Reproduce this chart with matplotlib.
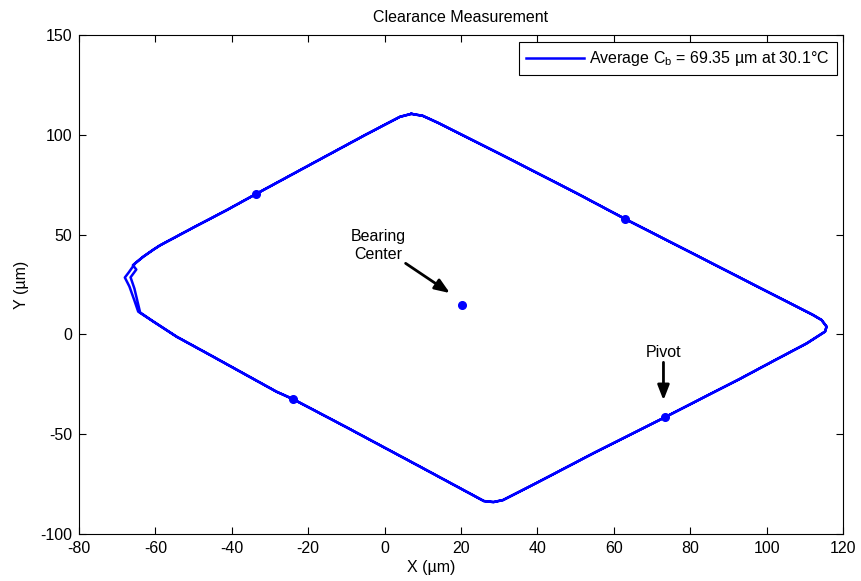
import matplotlib
matplotlib.use("Agg")
import matplotlib.pyplot as plt

plt.rcParams['font.family'] = ['Liberation Sans', 'DejaVu Sans']
plt.rcParams['mathtext.fontset'] = 'custom'
plt.rcParams['mathtext.rm'] = 'Liberation Sans'
plt.rcParams['mathtext.it'] = 'Liberation Sans'
plt.rcParams['axes.unicode_minus'] = False

# Orbit trace, lap 1 (outer on left)
lap1_x = [7, 10, 14, 30, 50, 63, 80, 100, 112, 114.4, 115.7, 115.3,
          110.5, 101.8, 93, 84.3, 73.4, 55, 40, 31, 28.5, 26, 10, -10, -24,
          -28.3, -37, -45.7, -54.4, -60.5, -64.5,
          -65.5, -66.8, -68, -67, -65.3, -63.2, -60.5, -58.8, -50.1, -41.4, -33.7, -20, -5, 4, 7]
lap1_y = [110.5, 109.5, 106, 90.6, 71.0, 57.8, 41.2, 21.6, 9.9, 7.2, 3.9, 1.4,
          -4.5, -13.3, -22.3, -30.8, -41.5, -59.2, -74.2, -83, -84, -83.5, -67, -46.5, -32.4,
          -28.7, -19.5, -10.3, -1.2, 6.4, 11.4,
          17, 24, 28.5, 31, 35.6, 38.9, 42.5, 44.6, 53.5, 62.2, 70.3, 84.5, 100, 109, 110.5]
# lap 2 (inner on left)
lap2_x = [7, 10, 14, 30, 50, 63, 80, 100, 112, 114.4, 115.7, 115.3,
          110.5, 101.8, 93, 84.3, 73.4, 55, 40, 31, 28.5, 26, 10, -10, -24,
          -28.3, -37, -45.7, -54.4, -60.5, -64.0,
          -64.5, -65.5, -66.5, -65, -65.9, -63.2, -60.5, -58.8, -50.1, -41.4, -33.7, -20, -5, 4, 7]
lap2_y = [110.5, 109.5, 106, 90.6, 71.0, 57.8, 41.2, 21.6, 9.9, 7.2, 3.9, 1.4,
          -4.5, -13.3, -22.3, -30.8, -41.5, -59.2, -74.2, -83, -84, -83.5, -67, -46.5, -32.4,
          -28.7, -19.5, -10.3, -1.2, 6.4, 11.0,
          15, 23, 28.6, 32.5, 34.7, 38.9, 42.5, 44.6, 53.5, 62.2, 70.3, 84.5, 100, 109, 110.5]

# Marked points (pads, pivot) and bearing center
mark_x = [-33.7, 63, 73.4, -24]
mark_y = [70.3, 57.8, -41.5, -32.4]
center_x = [20.2]
center_y = [14.7]

fig = plt.figure(figsize=(8.61, 5.81), dpi=100)
ax = fig.add_axes([79/861, 47/581, 764/861, 499/581])

blue = (0, 0, 1)
ax.plot(lap1_x + lap2_x, lap1_y + lap2_y, color=blue, lw=1.8,
        solid_joinstyle='round', label=r'Average C$_\mathrm{b}$ = 69.35 µm at 30.1°C')
ax.plot(mark_x, mark_y, 'o', color=blue, ms=5.5, label='_nolegend_')
ax.plot(center_x, center_y, 'o', color=blue, ms=5.5, label='_nolegend_')

aprops = dict(arrowstyle='-|>,head_length=0.9,head_width=0.35',
              color='black', lw=2, shrinkA=0, shrinkB=0)
ax.text(-1.7, 44.5, 'Bearing\nCenter', ha='center', va='center',
        fontsize=11.5, linespacing=1.2)
ax.annotate('', xy=(17.1, 20.7), xytext=(5.5, 35.6), arrowprops=aprops)
ax.text(73.0, -9.3, 'Pivot', ha='center', va='center', fontsize=11.5)
ax.annotate('', xy=(73.0, -33.0), xytext=(73.0, -14.0), arrowprops=aprops)

ax.set_xlim(-80, 120)
ax.set_ylim(-100, 150)
ax.set_xticks(range(-80, 121, 20))
ax.set_yticks(range(-100, 151, 50))
ax.tick_params(direction='in', top=True, right=True, length=5, labelsize=11.5, pad=5)
for s in ax.spines.values():
    s.set_linewidth(0.8)

ax.set_title('Clearance Measurement', fontsize=11.5, pad=9)
ax.set_xlabel('X (µm)', fontsize=11.5)
ax.set_ylabel('Y (µm)', fontsize=11.5)
ax.xaxis.set_label_coords(0.461, -0.052)
ax.yaxis.set_label_coords(-0.066, 0.5)

leg = ax.legend(loc='upper right', bbox_to_anchor=(0.992, 0.986), borderaxespad=0,
                fancybox=False, edgecolor='black', fontsize=11.5, handlelength=3.6,
                handletextpad=0.35, borderpad=0.45, framealpha=1)
leg.get_frame().set_linewidth(0.8)

fig.savefig('out.png', dpi=100)
